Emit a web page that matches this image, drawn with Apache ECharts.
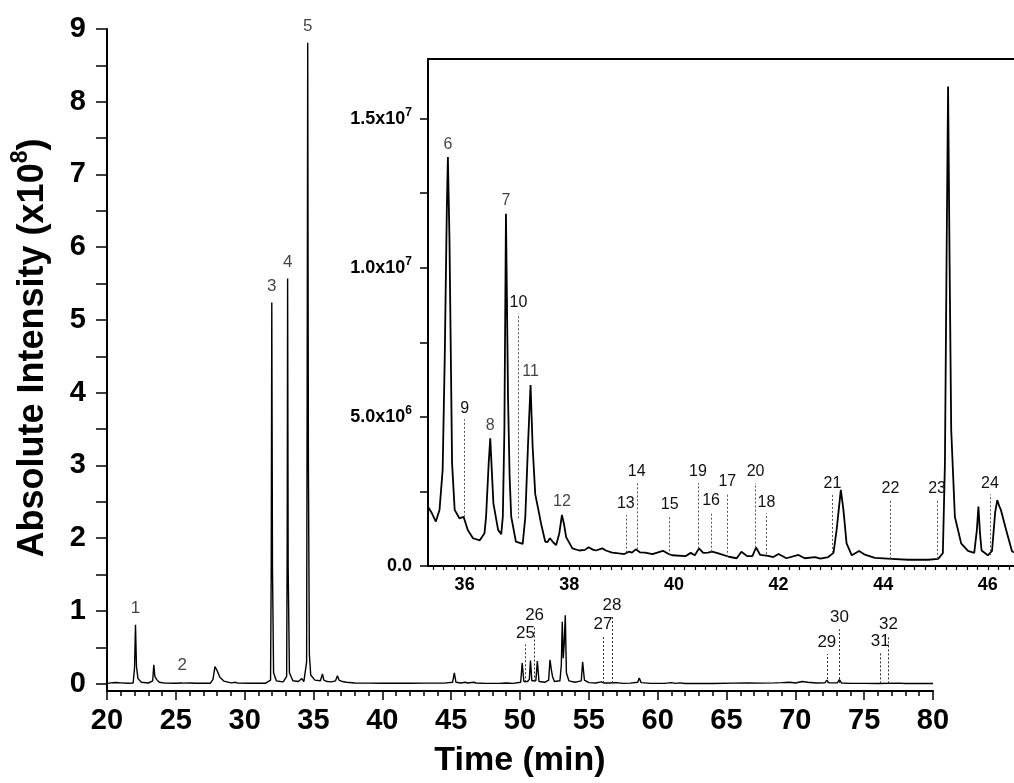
<!DOCTYPE html>
<html>
<head>
<meta charset="utf-8">
<script src="https://cdn.jsdelivr.net/npm/echarts@6/dist/echarts.min.js"></script>
<style>
  html, body { margin: 0; padding: 0; background: #fff; }
  #chart { width: 1014px; height: 783px; }
</style>
</head>
<body>
<div id="chart"></div>
<script>
// full run: time (min) and absolute intensity (x10^8)
const mainTime = [
  20.0, 20.3, 20.6, 21.0, 21.5, 21.9, 22.0, 22.07, 22.14, 22.25, 22.5, 23.0, 23.32, 23.4, 23.48, 23.6, 23.8, 24.2,
  25.0, 25.4, 25.46, 25.55, 26.0, 26.5, 27.5, 27.7, 27.84, 28.0, 28.2, 28.5, 29.0, 29.35, 29.5, 30.5, 31.5,
  31.88, 31.93, 31.97, 32.02, 32.1, 32.3, 32.6, 32.69, 32.8, 33.05, 33.09, 33.12, 33.16, 33.25, 33.5, 33.9,
  34.15, 34.3, 34.5, 34.54, 34.58, 34.63, 34.7, 34.8, 35.1, 35.5, 35.65, 35.75, 36.0, 36.3, 36.6, 36.74,
  36.85, 37.1, 37.23, 37.4, 38.0, 39.0, 40.0, 42.0, 43.1, 43.17, 43.3, 44.5, 45.1, 45.23, 45.35, 45.7,
  46.03, 46.2, 46.64, 46.8, 47.5, 48.5, 49.0, 49.5, 50.05, 50.16, 50.28, 50.55, 50.68, 50.76, 50.86, 51.15,
  51.26, 51.38, 51.8, 52.08, 52.18, 52.27, 52.36, 52.5, 52.9, 53.0, 53.07, 53.14, 53.21, 53.29, 53.37, 53.55,
  54.0, 54.45, 54.55, 54.68, 55.0, 55.5, 55.9, 56.1, 56.5, 57.0, 57.5, 58.0, 58.55, 58.66, 58.8, 59.5,
  60.5, 61.0, 61.3, 61.6, 62.0, 64.0, 65.5, 66.5, 67.5, 68.5, 69.0, 69.6, 70.0, 70.5, 70.9, 71.5,
  72.15, 72.29, 72.45, 73.05, 73.2, 73.35, 74.0, 75.0, 76.0, 77.5, 78.0, 79.0, 80.0
];
const mainIntensity = [
  0.005, 0.012, 0.016, 0.012, 0.006, 0.01, 0.22, 0.81, 0.24, 0.07, 0.02, 0.01, 0.04, 0.26, 0.1, 0.06, 0.02, 0.008,
  0.006, 0.01, 0.025, 0.008, 0.01, 0.006, 0.006, 0.06, 0.235, 0.18, 0.09, 0.035, 0.012, 0.02, 0.008, 0.006, 0.006,
  0.05, 1.6, 5.24, 1.6, 0.15, 0.04, 0.03, 0.05, 0.025, 0.1, 2.0, 5.57, 1.6, 0.15, 0.04, 0.03,
  0.07, 0.03, 0.3, 4.0, 8.81, 3.0, 0.4, 0.12, 0.05, 0.04, 0.135, 0.05, 0.03, 0.025, 0.04, 0.11,
  0.05, 0.03, 0.05, 0.02, 0.01, 0.008, 0.006, 0.006, 0.008, 0.025, 0.008, 0.008, 0.02, 0.15, 0.02, 0.01,
  0.02, 0.01, 0.02, 0.01, 0.005, 0.005, 0.01, 0.005, 0.02, 0.285, 0.03, 0.03, 0.06, 0.32, 0.04, 0.04,
  0.31, 0.03, 0.02, 0.05, 0.33, 0.2, 0.1, 0.03, 0.04, 0.25, 0.85, 0.35, 0.55, 0.94, 0.15, 0.04,
  0.02, 0.04, 0.30, 0.05, 0.015, 0.01, 0.025, 0.01, 0.01, 0.015, 0.005, 0.008, 0.02, 0.08, 0.015, 0.005,
  0.005, 0.015, 0.005, 0.012, 0.004, 0.004, 0.008, 0.01, 0.008, 0.012, 0.015, 0.02, 0.01, 0.03, 0.02, 0.01,
  0.012, 0.05, 0.012, 0.012, 0.055, 0.01, 0.005, 0.005, 0.004, 0.008, 0.004, 0.004, 0.004
];

// inset: 35.3 - 46.5 min, intensity in units of 10^6
const insetTime = [
  35.30, 35.38, 35.45, 35.52, 35.58, 35.62, 35.66, 35.68, 35.71, 35.74, 35.76, 35.81, 35.90, 35.98, 36.06, 36.16,
  36.29, 36.38, 36.41, 36.46, 36.49, 36.55, 36.64, 36.70, 36.73, 36.76, 36.79, 36.83, 36.86, 36.89, 36.98, 37.11,
  37.16, 37.21, 37.26, 37.30, 37.35, 37.41, 37.46, 37.54, 37.58, 37.63, 37.70, 37.75, 37.81, 37.86, 37.90, 37.94,
  38.06, 38.19, 38.30, 38.37, 38.45, 38.51, 38.63, 38.70, 38.82, 38.95, 39.05, 39.14, 39.20, 39.27, 39.35, 39.45,
  39.59, 39.79, 39.90, 39.97, 40.22, 40.32, 40.40, 40.48, 40.56, 40.65, 40.73, 40.85, 41.05, 41.20, 41.29, 41.40,
  41.50, 41.57, 41.65, 41.80, 41.90, 42.00, 42.15, 42.38, 42.50, 42.70, 42.80, 42.95, 43.05, 43.11, 43.19, 43.24,
  43.30, 43.40, 43.54, 43.65, 43.84, 44.16, 44.48, 44.86, 45.05, 45.14, 45.18, 45.21, 45.24, 45.27, 45.30, 45.37,
  45.49, 45.62, 45.74, 45.79, 45.82, 45.85, 45.88, 46.00, 46.08, 46.14, 46.18, 46.22, 46.25, 46.35, 46.46, 46.50
];
const insetIntensity = [
  1.99, 1.75, 1.49, 1.88, 3.22, 7.0, 12.0, 13.71, 11.0, 6.5, 3.45, 1.88, 1.6, 1.65, 1.21, 0.93,
  0.86, 1.1, 1.65, 3.45, 4.28, 2.1, 1.21, 1.07, 1.65, 4.56, 11.81, 5.6, 3.0, 1.66, 0.82, 0.74,
  1.65, 4.0, 6.07, 4.0, 2.4, 1.88, 1.43, 0.82, 0.8, 0.93, 0.78, 0.7, 1.1, 1.71, 1.4, 0.97,
  0.59, 0.52, 0.54, 0.63, 0.55, 0.52, 0.59, 0.52, 0.45, 0.42, 0.4, 0.48, 0.45, 0.56, 0.46, 0.45,
  0.4, 0.51, 0.4, 0.36, 0.33, 0.44, 0.36, 0.59, 0.44, 0.45, 0.48, 0.42, 0.31, 0.26, 0.48, 0.33,
  0.33, 0.62, 0.37, 0.34, 0.3, 0.4, 0.26, 0.37, 0.26, 0.3, 0.25, 0.3, 0.44, 1.21, 2.55, 1.88,
  0.76, 0.36, 0.5, 0.38, 0.27, 0.24, 0.21, 0.21, 0.24, 0.43, 3.45, 10.0, 16.08, 10.0, 4.56, 1.65,
  0.76, 0.51, 0.44, 1.2, 1.99, 1.1, 0.52, 0.36, 0.51, 1.8, 2.21, 2.0, 1.88, 1.21, 0.5, 0.45
];

// numbered peaks labelled at their apex
const mainPeakNames = ['1', '2', '3', '4', '5'];
const mainPeakTime = [22.07, 25.46, 31.97, 33.12, 34.58];
const mainPeakIntensity = [0.81, 0.025, 5.24, 5.57, 8.81];

const insetPeakNames = ['6', '7', '8', '11', '12'];
const insetPeakTime = [35.68, 36.79, 36.49, 37.26, 37.86];
const insetPeakIntensity = [13.71, 11.81, 4.28, 6.07, 1.71];

// numbered peaks marked with a dotted drop line
const mainMarkNames = ['25', '26', '27', '28', '29', '30', '31', '32'];
const mainMarkTime = [50.40, 51.06, 56.03, 56.68, 72.29, 73.20, 76.16, 76.77];
const mainMarkTop = [0.54, 0.78, 0.66, 0.92, 0.41, 0.75, 0.42, 0.66];
const mainMarkBottom = [0.02, 0.03, 0.01, 0.01, 0.01, 0.01, 0.005, 0.005];

const insetMarkNames = ['9', '10', '13', '14', '15', '19', '16', '17', '20', '18', '21', '22', '23', '24'];
const insetMarkTime = [36.0, 37.03, 39.08, 39.29, 39.92, 40.46, 40.71, 41.02, 41.56, 41.77, 43.03, 44.14, 45.03, 46.04];
const insetMarkTop = [4.92, 8.46, 1.71, 2.78, 1.68, 2.78, 1.82, 2.46, 2.78, 1.77, 2.38, 2.21, 2.24, 2.41];
const insetMarkBottom = [1.65, 1.6, 0.45, 0.56, 0.36, 0.59, 0.48, 0.31, 0.62, 0.40, 0.44, 0.24, 0.24, 0.36];

// axis ticks and labels
const mainYLabels = [0, 1, 2, 3, 4, 5, 6, 7, 8, 9];
const mainYTicks = [0, 0.5, 1, 1.5, 2, 2.5, 3, 3.5, 4, 4.5, 5, 5.5, 6, 6.5, 7, 7.5, 8, 8.5, 9];
const insetXLabels = [36, 38, 40, 42, 44, 46];
const insetYLabels = [0, 5, 10, 15];
const insetYLabelText = ['0.0', '5.0x10{s|6}', '1.0x10{s|7}', '1.5x10{s|7}'];
const insetYTicks = [0, 2.5, 5, 7.5, 10, 12.5, 15];

const insetXTicks = [];
for (let k = 177; k <= 232; k++) insetXTicks.push(k / 5);

const FONT = '"Liberation Sans", Arial, sans-serif';

const zip = (xs, ys) => xs.map((x, i) => [x, ys[i]]);

function markLines(names, times, tops, bottoms) {
  return names.map((n, i) => [
    { name: n, coord: [times[i], bottoms[i]] },
    { coord: [times[i], tops[i]] }
  ]);
}

function peakPoints(names, times, values) {
  return names.map((n, i) => ({ name: n, value: [times[i], values[i]] }));
}

const chart = echarts.init(document.getElementById('chart'));

chart.setOption({
  animation: false,
  backgroundColor: '#fff',
  textStyle: { fontFamily: FONT },
  grid: [
    { left: 107, right: 81, top: 29, bottom: 88 },
    { left: 428, right: -2, top: 59, bottom: 217 }
  ],
  xAxis: [
    {
      gridIndex: 0,
      type: 'value',
      min: 20,
      max: 80,
      interval: 5,
      axisLine: { onZero: false, lineStyle: { color: '#000', width: 2 } },
      axisTick: { length: 9, lineStyle: { color: '#000', width: 1.5 } },
      minorTick: { show: true, splitNumber: 5, length: 5, lineStyle: { color: '#000', width: 1.5 } },
      axisLabel: { fontSize: 29, fontWeight: 'bold', color: '#000', margin: 15, fontFamily: FONT },
      splitLine: { show: false },
      name: 'Time (min)',
      nameLocation: 'middle',
      nameGap: 53,
      nameTextStyle: { fontSize: 34, fontWeight: 'bold', color: '#000', fontFamily: FONT }
    },
    {
      gridIndex: 1,
      type: 'value',
      min: 35.3,
      max: 46.5,
      axisLine: { onZero: false, lineStyle: { color: '#000', width: 2 } },
      axisTick: { customValues: insetXTicks, length: 4, lineStyle: { color: '#000', width: 1.2 } },
      axisLabel: { customValues: insetXLabels, fontSize: 18, fontWeight: 'bold', color: '#000', margin: 10, fontFamily: FONT },
      splitLine: { show: false }
    },
    {
      gridIndex: 1,
      type: 'value',
      position: 'top',
      min: 35.3,
      max: 46.5,
      axisLine: { onZero: false, lineStyle: { color: '#000', width: 2 } },
      axisTick: { show: false },
      axisLabel: { show: false },
      splitLine: { show: false }
    }
  ],
  yAxis: [
    {
      gridIndex: 0,
      type: 'value',
      min: -0.1,
      max: 9,
      axisLine: { show: true, onZero: false, lineStyle: { color: '#000', width: 2 } },
      axisTick: { show: true, customValues: mainYTicks, length: 11, lineStyle: { color: '#000', width: 1.5 } },
      axisLabel: { customValues: mainYLabels, fontSize: 29, fontWeight: 'bold', color: '#000', margin: 21, fontFamily: FONT },
      splitLine: { show: false },
      name: 'Absolute Intensity (x10{s|8})',
      nameLocation: 'middle',
      nameGap: 50,
      nameTextStyle: {
        fontSize: 36, fontWeight: 'bold', color: '#000', fontFamily: FONT, lineHeight: 48,
        padding: [0, 0, 0, 24],
        rich: { s: { fontSize: 23, fontWeight: 'bold', color: '#000', fontFamily: FONT, verticalAlign: 'top', lineHeight: 23 } }
      }
    },
    {
      gridIndex: 1,
      type: 'value',
      min: 0,
      max: 17,
      axisLine: { show: true, onZero: false, lineStyle: { color: '#000', width: 2 } },
      axisTick: { show: true, customValues: insetYTicks, length: 8, lineStyle: { color: '#000', width: 1.5 } },
      axisLabel: {
        customValues: insetYLabels,
        formatter: (v) => insetYLabelText[insetYLabels.indexOf(v)] || '',
        fontSize: 18, fontWeight: 'bold', color: '#000', margin: 16, fontFamily: FONT, lineHeight: 24,
        rich: { s: { fontSize: 12, fontWeight: 'bold', color: '#000', fontFamily: FONT, verticalAlign: 'top', lineHeight: 12 } }
      },
      splitLine: { show: false }
    }
  ],
  series: [
    {
      name: 'full run',
      type: 'line',
      xAxisIndex: 0,
      yAxisIndex: 0,
      data: zip(mainTime, mainIntensity),
      showSymbol: false,
      silent: true,
      lineStyle: { color: '#000', width: 1.4 },
      markLine: {
        silent: true,
        symbol: ['none', 'none'],
        lineStyle: { type: [2, 2], color: '#333', width: 1 },
        label: { show: true, position: 'end', distance: 3, formatter: '{b}', fontSize: 17, color: '#111', fontFamily: FONT },
        data: markLines(mainMarkNames, mainMarkTime, mainMarkTop, mainMarkBottom)
      }
    },
    {
      name: 'full run peaks',
      type: 'scatter',
      xAxisIndex: 0,
      yAxisIndex: 0,
      symbolSize: 0,
      silent: true,
      label: { show: true, position: 'top', distance: 8, formatter: '{b}', fontSize: 17, color: '#111', fontFamily: FONT },
      data: peakPoints(mainPeakNames, mainPeakTime, mainPeakIntensity)
    },
    {
      name: 'inset',
      type: 'line',
      xAxisIndex: 1,
      yAxisIndex: 1,
      data: zip(insetTime, insetIntensity),
      showSymbol: false,
      silent: true,
      lineStyle: { color: '#000', width: 1.8 },
      markLine: {
        silent: true,
        symbol: ['none', 'none'],
        lineStyle: { type: [2, 2], color: '#555', width: 1 },
        label: { show: true, position: 'end', distance: 3, formatter: '{b}', fontSize: 16, color: '#111', fontFamily: FONT },
        data: markLines(insetMarkNames, insetMarkTime, insetMarkTop, insetMarkBottom)
      }
    },
    {
      name: 'inset peaks',
      type: 'scatter',
      xAxisIndex: 1,
      yAxisIndex: 1,
      symbolSize: 0,
      silent: true,
      label: { show: true, position: 'top', distance: 5, formatter: '{b}', fontSize: 16, color: '#111', fontFamily: FONT },
      data: peakPoints(insetPeakNames, insetPeakTime, insetPeakIntensity)
    }
  ]
});
</script>
</body>
</html>
